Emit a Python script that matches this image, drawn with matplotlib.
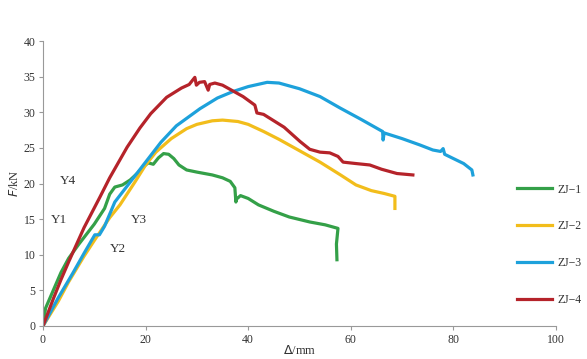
import matplotlib.pyplot as plt

plt.rcParams['font.family'] = ['Liberation Serif', 'DejaVu Serif']

# ZJ-1 (green)
x1 = [0, 0.5, 2, 3.5, 5, 7, 10, 12, 13, 14, 15.5, 17, 18.5, 19.5, 20.5, 21.5, 22.5, 23.5, 24.5,
      25.5, 26.5, 28, 30, 33, 35, 36.5, 37.4, 37.6, 37.7, 38.5, 40, 42, 45, 48, 52, 55, 57.5, 57.2, 57.3]
y1 = [0, 2.5, 5, 7.5, 9.5, 11.5, 14.3, 16.5, 18.5, 19.5, 19.8, 20.5, 21.5, 22.3, 22.9, 22.7, 23.6, 24.2, 24.1,
      23.5, 22.6, 21.9, 21.6, 21.2, 20.8, 20.3, 19.4, 17.4, 17.8, 18.3, 17.9, 17.0, 16.1, 15.3, 14.6, 14.2, 13.7, 11.5, 9.3]

# ZJ-2 (yellow)
x2 = [0, 3, 5, 8, 10, 13, 15, 18, 20, 22, 25, 28, 30, 33, 35, 38, 40, 43, 46, 50, 54, 58, 61, 64, 66.5, 68.6, 68.6]
y2 = [0, 3.5, 6.2, 9.8, 12, 15.2, 17, 20.3, 22.6, 24.4, 26.3, 27.7, 28.3, 28.8, 28.9, 28.7, 28.3, 27.3, 26.2, 24.6, 23.0, 21.2, 19.8, 19.0, 18.6, 18.2, 16.5]

# ZJ-3 (blue)
x3 = [0, 3, 5.8, 8, 10.1, 11, 12, 14, 17, 20, 23, 26, 30.6, 34, 37, 40, 43.7, 46, 50, 54, 57.9, 62, 65.7, 66.2, 66.3, 66.5,
      70, 73.5, 76, 77.5, 78, 78.3, 80, 82, 83.6, 83.8]
y3 = [0, 4, 7.4, 10.2, 12.8, 12.8, 14, 17.4, 20.2, 23, 25.8, 28.1, 30.5, 32, 32.9, 33.6, 34.2, 34.1, 33.3, 32.2, 30.6, 29, 27.5, 27.3, 26.1, 27.1,
      26.3, 25.4, 24.7, 24.5, 24.9, 24.1, 23.5, 22.8, 21.9, 21.2]

# ZJ-4 (red)
x4 = [0, 2, 3.5, 5, 8, 11.1, 13, 16.4, 18.9, 21, 24.1, 27, 28.5, 29.6, 29.9, 30.5, 31.5, 32.2, 32.5, 33.5, 35, 37, 39, 41.3, 41.7, 43,
      45, 47, 50.1, 52, 54, 55.9, 57.5, 58.5, 61, 63.7, 66, 69, 72.1]
y4 = [0, 3.8, 6.5, 9, 13.8, 18.1, 20.8, 25.1, 27.8, 29.8, 32.1, 33.4, 33.9, 34.9, 33.8, 34.2, 34.3, 33.1, 33.9, 34.1, 33.8, 33.0, 32.2, 31, 29.9, 29.7,
      28.8, 27.9, 25.9, 24.8, 24.4, 24.3, 23.8, 23.0, 22.8, 22.6, 22.0, 21.4, 21.2]

labels = ['ZJ\u22121', 'ZJ\u22122', 'ZJ\u22123', 'ZJ\u22124']
colors = ['#34a048', '#f2bd1b', '#1da1db', '#b5232a']

fig = plt.figure(figsize=(5.87, 3.59), dpi=100)
ax = fig.add_axes([43 / 587, 1 - 326 / 359, 513 / 587, 285 / 359])

for xs, ys, lab, c in zip([x1, x2, x3, x4], [y1, y2, y3, y4], labels, colors):
    ax.plot(xs, ys, color=c, lw=2.3, label=lab, solid_joinstyle='round')

# curve labels
for txt, xv, yv in [('Y4', 4.9, 20.3), ('Y1', 3.1, 14.9), ('Y3', 18.7, 14.9), ('Y2', 14.6, 10.8)]:
    ax.text(xv, yv, txt, fontsize=9.5, color='#333333', ha='center', va='center')

ax.set_xlim(0, 100)
ax.set_ylim(0, 40)
ax.set_xticks(range(0, 101, 20))
ax.set_yticks(range(0, 41, 5))
for s in ['top', 'right']:
    ax.spines[s].set_visible(False)
for s in ['left', 'bottom']:
    ax.spines[s].set_color('#999999')
    ax.spines[s].set_linewidth(0.8)
ax.tick_params(colors='#999999', labelcolor='#333333', labelsize=8.5, length=3, width=0.8, pad=2.5)

ax.set_xlabel(r'$\mathit{\Delta}$/mm', fontsize=9, color='#333333', labelpad=-1)
ax.set_ylabel(r'$\mathit{F}$/kN', fontsize=9, color='#333333', labelpad=2)

ax.legend(loc='center left', bbox_to_anchor=(0.924, 0.285), frameon=False, fontsize=8.5,
          handlelength=3.0, handletextpad=0.4, labelspacing=2.1, borderpad=0, borderaxespad=0,
          labelcolor='#333333')

fig.savefig('out.png', dpi=100)
